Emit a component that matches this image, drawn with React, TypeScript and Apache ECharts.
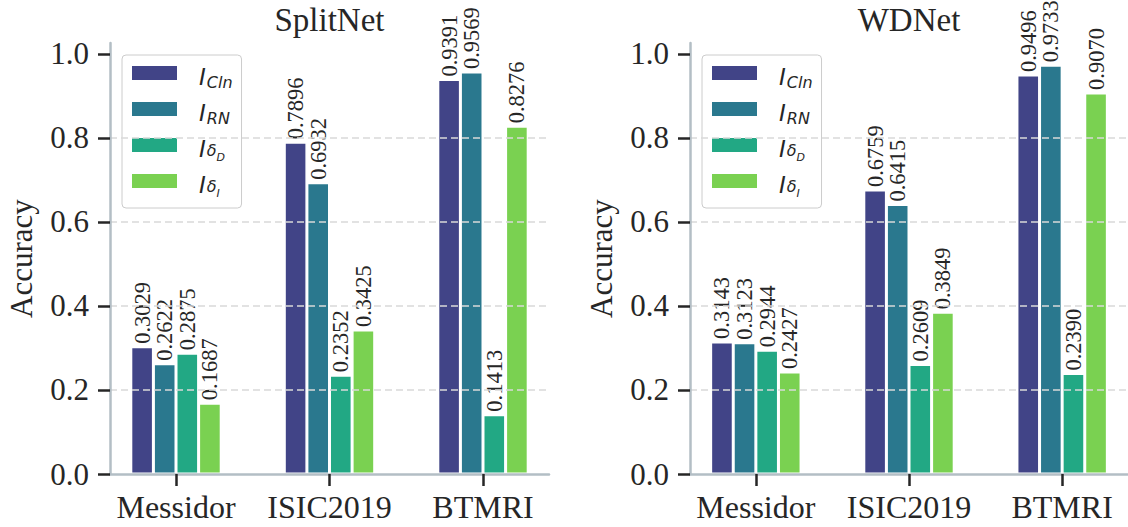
import React, { useEffect, useRef } from 'react';
import * as echarts from 'echarts';

const categories = ['Messidor', 'ISIC2019', 'BTMRI'];
const seriesNames = ['Cln', 'RN', 'dD', 'dI'];
const panelTitles = ['SplitNet', 'WDNet'];

// SplitNet values per series (Messidor, ISIC2019, BTMRI)
const splitNetCln = [0.3029, 0.7896, 0.9391];
const splitNetRN = [0.2622, 0.6932, 0.9569];
const splitNetDeltaD = [0.2875, 0.2352, 0.1413];
const splitNetDeltaI = [0.1687, 0.3425, 0.8276];

// WDNet values per series
const wdNetCln = [0.3143, 0.6759, 0.9496];
const wdNetRN = [0.3123, 0.6415, 0.9733];
const wdNetDeltaD = [0.2944, 0.2609, 0.2390];
const wdNetDeltaI = [0.2427, 0.3849, 0.9070];

const yTicks = [0, 0.2, 0.4, 0.6, 0.8, 1.0];
const xTicks = [0, 1, 2];

const colors = ['#414487', '#2a788e', '#22a884', '#7ad151'];
const panels = [
  [splitNetCln, splitNetRN, splitNetDeltaD, splitNetDeltaI],
  [wdNetCln, wdNetRN, wdNetDeltaD, wdNetDeltaI],
];

const SERIF = "'Liberation Serif', 'Times New Roman', serif";
const TEXT = '#262626';
const SPINE = '#b3bec5';

const legendLabels: Record<string, string> = {
  Cln: '{i|I}{s|Cln}',
  RN: '{i|I}{s|RN}',
  dD: '{i|I}{d|δ}{ss|D}',
  dI: '{i|I}{d|δ}{ss|I}',
};

const legendRich = {
  i: { fontFamily: 'DejaVu Sans', fontStyle: 'italic', fontSize: 23, lineHeight: 24, verticalAlign: 'top', padding: [4, 1, 6, 17], color: TEXT },
  s: { fontFamily: 'DejaVu Sans', fontStyle: 'italic', fontSize: 16, lineHeight: 16, verticalAlign: 'top', padding: [13, 0, 5, 0], color: TEXT },
  d: { fontFamily: 'DejaVu Sans', fontStyle: 'italic', fontSize: 16, lineHeight: 16, verticalAlign: 'top', padding: [9, 0, 9, 0], color: TEXT },
  ss: { fontFamily: 'DejaVu Sans', fontStyle: 'italic', fontSize: 11, lineHeight: 11, verticalAlign: 'top', padding: [19, 0, 4, 0], color: TEXT },
};

const gridLefts = [110, 690];
const gridWidths = [439, 438];
const legendLefts = [122, 702];
const titleCenters = [329.5, 909];

export default function App() {
  const ref = useRef<HTMLDivElement>(null);
  useEffect(() => {
    if (!ref.current) return;
    const chart = echarts.init(ref.current, undefined, { renderer: 'svg' });
    const series: any[] = [];
    panels.forEach((panel, p) => {
      panel.forEach((vals, s) => {
        series.push({
          type: 'bar',
          name: seriesNames[s],
          xAxisIndex: p,
          yAxisIndex: p,
          data: vals.map((v, i) => [i, v]),
          barWidth: 22.6,
          barGap: '0%',
          itemStyle: { color: colors[s], borderColor: '#ffffff', borderWidth: 1.5 },
          label: {
            show: true,
            position: 'top',
            rotate: 90,
            align: 'left',
            verticalAlign: 'middle',
            distance: 3,
            fontFamily: SERIF,
            fontSize: 22.5,
            color: TEXT,
            formatter: (pr: any) => pr.value[1].toFixed(4),
          },
        });
      });
    });
    const option: any = {
      animation: false,
      backgroundColor: '#ffffff',
      title: panelTitles.map((t, p) => ({
        text: t,
        left: titleCenters[p],
        top: 3,
        padding: 0,
        textAlign: 'center',
        textStyle: { fontFamily: SERIF, fontSize: 33, fontWeight: 'normal', color: TEXT },
      })),
      legend: [0, 1].map((p) => ({
        left: legendLefts[p],
        top: 55,
        orient: 'vertical',
        itemWidth: 45,
        itemHeight: 14,
        itemGap: 2,
        padding: [6, 9, 5, 10],
        borderColor: '#cccccc',
        borderWidth: 1,
        borderRadius: 4,
        backgroundColor: 'rgba(255,255,255,0.85)',
        icon: 'rect',
        selectedMode: false,
        data: seriesNames,
        itemStyle: { borderWidth: 0 },
        formatter: (n: string) => legendLabels[n],
        textStyle: { color: TEXT, rich: legendRich },
      })),
      grid: [0, 1].map((p) => ({ left: gridLefts[p], top: 43, width: gridWidths[p], height: 431 })),
      xAxis: [0, 1].map((p) => ({
        type: 'value',
        gridIndex: p,
        min: -0.43,
        max: 2.43,
        z: 10,
        splitLine: { show: false },
        axisLine: { show: true, onZero: false, lineStyle: { color: SPINE, width: 2.5 } },
        axisTick: { show: true, customValues: xTicks, length: 12, lineStyle: { color: TEXT, width: 2.5 } },
        axisLabel: {
          customValues: xTicks,
          formatter: (v: number) => categories[Math.round(v)],
          margin: 17,
          fontFamily: SERIF,
          fontSize: 32,
          color: TEXT,
        },
      })),
      yAxis: [0, 1].map((p) => ({
        type: 'value',
        gridIndex: p,
        min: 0,
        max: 1.026,
        interval: 0.2,
        z: 10,
        name: 'Accuracy',
        nameLocation: 'middle',
        nameGap: 73,
        nameTextStyle: { fontFamily: SERIF, fontSize: 31, color: TEXT },
        splitLine: {
          show: true,
          showMinLine: false,
          showMaxLine: false,
          lineStyle: { type: [7, 4], color: '#d9d9d9', width: 1.5 },
        },
        axisLine: { show: true, onZero: false, lineStyle: { color: SPINE, width: 2.5 } },
        axisTick: { show: true, customValues: yTicks, length: 12, lineStyle: { color: TEXT, width: 2.5 } },
        axisLabel: {
          customValues: yTicks,
          formatter: (v: number) => v.toFixed(1),
          margin: 21,
          fontFamily: SERIF,
          fontSize: 31,
          color: TEXT,
        },
      })),
      series,
    };
    chart.setOption(option);
    return () => chart.dispose();
  }, []);
  return (
    <div
      ref={ref}
      style={{ position: 'absolute', left: 0, top: 0, width: 1128, height: 527, background: '#fff' }}
    />
  );
}
